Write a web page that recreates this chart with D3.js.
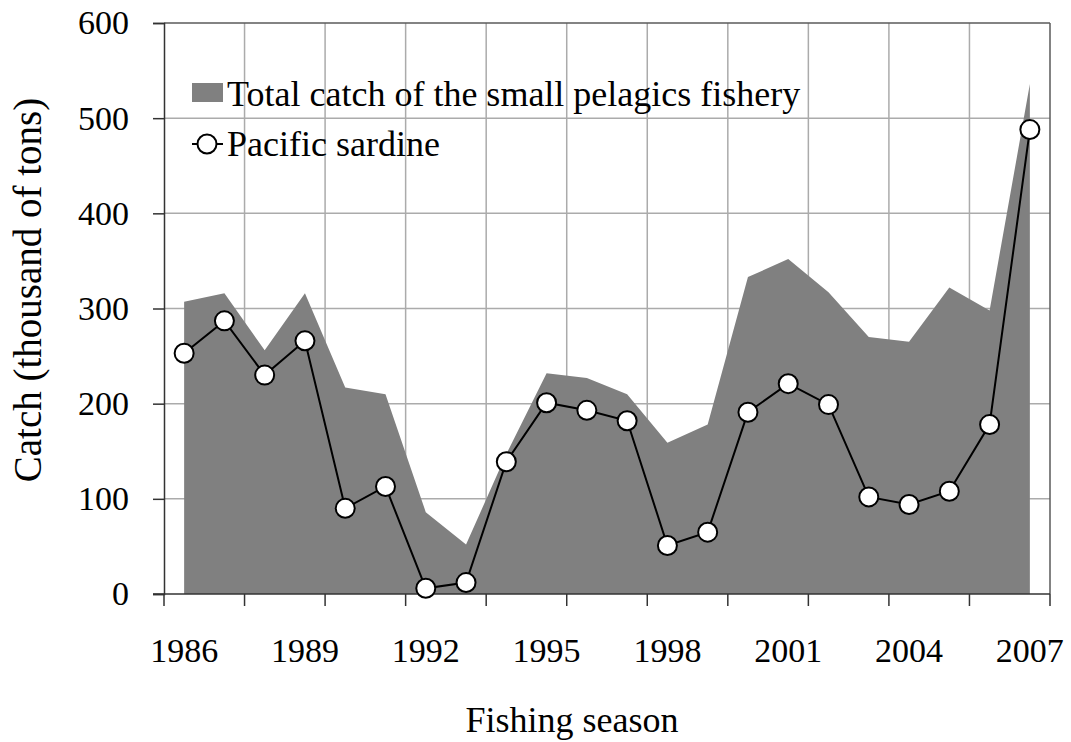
<!DOCTYPE html>
<html>
<head>
<meta charset="utf-8">
<script src="https://cdn.jsdelivr.net/npm/d3@7"></script>
<style>
  body { margin: 0; background: #fff; }
  text { font-family: "Liberation Serif", "Times New Roman", serif; fill: #000; }
</style>
</head>
<body>
<svg id="chart" width="1071" height="742"></svg>
<script>
// fishing seasons
const seasons = d3.range(1986, 2008);
const tickLabels = ["1986", "1989", "1992", "1995", "1998", "2001", "2004", "2007"];
const yTicks = [0, 100, 200, 300, 400, 500, 600];

// thousand of tons
const totalCatch = [307, 316, 256, 316, 217, 210, 86, 52, 147, 232, 227, 210,
  159, 178, 333, 352, 317, 270, 265, 322, 298, 536];
const sardine = [253, 287, 230, 266, 90, 113, 6, 12, 139, 201, 193, 182,
  51, 65, 191, 221, 199, 102, 94, 108, 178, 488];

const svg = d3.select("#chart");
const margin = { left: 164, right: 21, top: 23, bottom: 148 };
const width = +svg.attr("width"), height = +svg.attr("height");
const fontSize = 34;

const x = d3.scaleBand()
  .domain(seasons)
  .range([margin.left, width - margin.right])
  .padding(0);

const y = d3.scaleLinear()
  .domain([0, 600])
  .range([height - margin.bottom, margin.top]);

const cx = d => x(d) + x.bandwidth() / 2;

// grid
const grid = svg.append("g").attr("class", "grid");
grid.selectAll("line.h")
  .data(yTicks.filter(d => d > 0 && d < 600))
  .join("line")
  .attr("x1", margin.left).attr("x2", width - margin.right)
  .attr("y1", d => y(d)).attr("y2", d => y(d))
  .attr("stroke", "#ababab").attr("stroke-width", 1.5);

// boundaries every two seasons
const bounds = seasons.filter((d, i) => i % 2 === 0).map(d => x(d)).concat([x.range()[1]]);
grid.selectAll("line.v")
  .data(bounds.slice(1, -1))
  .join("line")
  .attr("x1", d => d).attr("x2", d => d)
  .attr("y1", y(0)).attr("y2", y(600))
  .attr("stroke", "#ababab").attr("stroke-width", 1.5);

// total catch area
const area = d3.area()
  .x((d, i) => cx(seasons[i]))
  .y0(y(0))
  .y1(d => y(d));

svg.append("path")
  .datum(totalCatch)
  .attr("fill", "#808080")
  .attr("d", area);

// frame: top and right
svg.append("line")
  .attr("x1", margin.left).attr("x2", width - margin.right)
  .attr("y1", y(600)).attr("y2", y(600))
  .attr("stroke", "#5a5a5a").attr("stroke-width", 1.5);
svg.append("line")
  .attr("x1", width - margin.right).attr("x2", width - margin.right)
  .attr("y1", y(600)).attr("y2", y(0))
  .attr("stroke", "#5a5a5a").attr("stroke-width", 1.5);

// y axis
const yAxis = d3.axisLeft(y)
  .tickValues(yTicks)
  .tickSize(11)
  .tickPadding(24);
const gY = svg.append("g")
  .attr("transform", `translate(${margin.left},0)`)
  .call(yAxis);
gY.selectAll("path, line").attr("stroke", "#333").attr("stroke-width", 1.5);
gY.selectAll("text")
  .style("font-family", "Liberation Serif")
  .style("font-size", fontSize + "px")
  .attr("fill", "#000");

// x axis: ticks at every other season boundary
const gX = svg.append("g");
gX.append("line")
  .attr("x1", margin.left - 11).attr("x2", width - margin.right)
  .attr("y1", y(0)).attr("y2", y(0))
  .attr("stroke", "#333").attr("stroke-width", 1.5);
gX.selectAll("line.tick")
  .data(bounds)
  .join("line")
  .attr("class", "tick")
  .attr("x1", d => d).attr("x2", d => d)
  .attr("y1", y(0)).attr("y2", y(0) + 12)
  .attr("stroke", "#333").attr("stroke-width", 1.5);
gX.selectAll("text")
  .data(tickLabels)
  .join("text")
  .attr("x", d => cx(+d))
  .attr("y", y(0) + 68)
  .attr("text-anchor", "middle")
  .style("font-size", fontSize + "px")
  .text(d => d);

// sardine line
const line = d3.line()
  .x((d, i) => cx(seasons[i]))
  .y(d => y(d));

svg.append("path")
  .datum(sardine)
  .attr("fill", "none")
  .attr("stroke", "#000")
  .attr("stroke-width", 2)
  .attr("d", line);

svg.append("g")
  .selectAll("circle")
  .data(sardine)
  .join("circle")
  .attr("cx", (d, i) => cx(seasons[i]))
  .attr("cy", d => y(d))
  .attr("r", 9.5)
  .attr("fill", "#fff")
  .attr("stroke", "#000")
  .attr("stroke-width", 2);

// axis titles
svg.append("text")
  .attr("x", 572)
  .attr("y", 732)
  .attr("text-anchor", "middle")
  .style("font-size", "36px")
  .text("Fishing season");

svg.append("text")
  .attr("transform", "translate(41,290) rotate(-90)")
  .attr("text-anchor", "middle")
  .style("font-size", "39px")
  .text("Catch (thousand of tons)");

// legend
const legend = svg.append("g");
legend.append("rect")
  .attr("x", 192).attr("y", 83)
  .attr("width", 31).attr("height", 19)
  .attr("fill", "#808080");
legend.append("text")
  .attr("x", 227).attr("y", 106)
  .style("font-size", "36px")
  .text("Total catch of the small pelagics fishery");
legend.append("line")
  .attr("x1", 192).attr("x2", 223)
  .attr("y1", 144).attr("y2", 144)
  .attr("stroke", "#000").attr("stroke-width", 2);
legend.append("circle")
  .attr("cx", 207).attr("cy", 144).attr("r", 9.5)
  .attr("fill", "#fff").attr("stroke", "#000").attr("stroke-width", 2);
legend.append("text")
  .attr("x", 227).attr("y", 156)
  .style("font-size", "36px")
  .text("Pacific sardine");
</script>
</body>
</html>
